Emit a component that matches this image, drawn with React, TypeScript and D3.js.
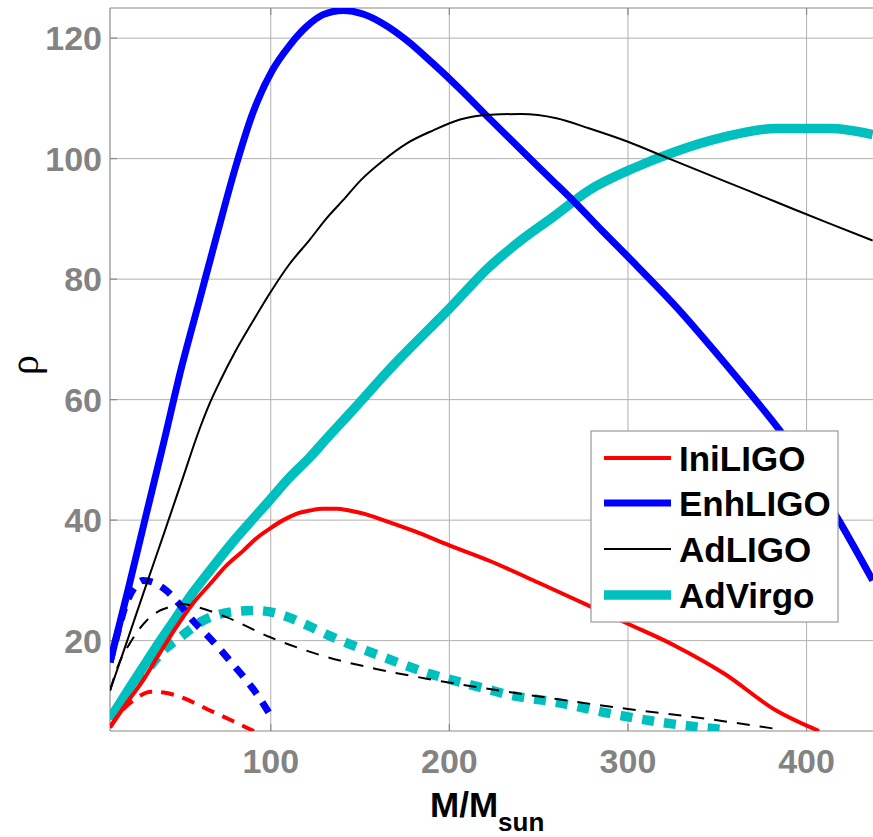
import React from 'react';
import * as d3 from 'd3';

// Tick values
const xTicks = [100, 200, 300, 400];
const yTicks = [20, 40, 60, 80, 100, 120];

// Initial LIGO, solid
const iniM = [10, 20, 28.5, 38, 47, 56, 66, 75, 84.5, 92, 99.5, 107, 114, 122, 129, 137, 144, 153, 163, 180, 200, 222, 250, 278, 300, 326, 354, 383, 407];
const iniRho = [5.6, 9.9, 13.4, 18, 22.2, 26, 29.4, 32.4, 34.9, 37, 38.6, 40, 41, 41.6, 41.9, 41.9, 41.6, 41, 40, 38.2, 35.8, 33.3, 29.6, 25.8, 22.8, 19.2, 14.5, 8.4, 5.0];

// Enhanced LIGO, solid
const enhM = [10, 20, 30, 40, 50, 60, 70, 80, 90, 101, 110.6, 120, 129.3, 140.5, 151.7, 162.9, 175.9, 190.8, 205.8, 222.6, 240, 258, 271, 285, 300, 327, 353, 369, 385, 400, 417, 437];
const enhRho = [16.4, 28.3, 40.6, 52.8, 65.3, 76.4, 87.5, 98.3, 107.6, 114.7, 118.8, 121.9, 123.9, 124.6, 124.0, 122.4, 119.7, 115.8, 111.6, 106.6, 101.5, 96.3, 92.5, 88.2, 83.7, 75.4, 66.5, 60.8, 54.9, 48.5, 40.5, 30];

// Advanced LIGO, solid
const adlM = [10, 20, 30, 40, 50, 60, 66, 72, 80, 90, 99.4, 110, 122, 131, 140.5, 151, 163, 176, 191, 206, 223, 240, 260, 278.5, 300, 323, 353, 383, 413, 437];
const adlRho = [11.7, 20.3, 29.0, 37.6, 46.3, 55.0, 59.5, 63.3, 67.9, 73.0, 77.6, 82.3, 86.6, 90, 93.1, 96.6, 99.7, 102.5, 104.7, 106.5, 107.3, 107.4, 106.7, 105, 102.8, 100, 96.4, 92.8, 89.2, 86.4];

// Advanced Virgo, solid
const advM = [10, 20, 28.5, 38, 47.2, 56, 65.9, 80, 99.4, 110, 121.8, 133, 144.2, 168, 200, 222.6, 239, 258, 278.5, 303, 326, 354, 383, 413, 437];
const advRho = [7.0, 11.7, 15.6, 19.9, 23.9, 27.8, 31.6, 36.8, 43.3, 46.9, 50.4, 54.1, 57.7, 65.5, 75.1, 82.1, 86.2, 90.3, 94.8, 98.4, 101.1, 103.6, 105.0, 105.0, 104.0];

// Dashed companions
const iniDashM = [10, 15, 21, 27, 33, 40, 47, 57, 66, 77, 89, 91];
const iniDashRho = [5.6, 7.8, 9.6, 10.9, 11.5, 11.4, 10.9, 9.7, 8.4, 6.9, 5.2, 4.9];

const enhDashM = [10, 14, 18.3, 23.9, 28.5, 34, 41.6, 49, 56.5, 64, 71.5, 79, 86.4, 93, 99.4];
const enhDashRho = [16.4, 21, 25.5, 28.9, 30, 29.7, 28.3, 26, 23.3, 21, 18.6, 16, 13.4, 10.8, 7.8];

const adlDashM = [10, 15, 21, 30.4, 38, 43.5, 49, 58.4, 75.2, 99.4, 125.6, 159, 189, 221.6, 260, 300, 334.5, 384];
const adlDashRho = [11.7, 16.2, 19.5, 23.3, 25, 25.6, 26.1, 25.6, 23.9, 20.6, 17.8, 15.3, 13.6, 12.0, 10.3, 8.65, 7.4, 5.3];

const advDashM = [10, 20, 30, 39.7, 49, 62, 77, 92, 107, 120, 133, 161, 189, 220.6, 231.9, 260, 291.6, 319.5, 351.3];
const advDashRho = [7, 11, 14.8, 18.3, 20.5, 23.3, 24.7, 25, 24.2, 22.6, 20.8, 17.5, 14.5, 12.0, 11.1, 9.75, 7.8, 6.4, 5.3];

const legendNames = ['IniLIGO', 'EnhLIGO', 'AdLIGO', 'AdVirgo'];

const RED = '#ff0000';
const BLUE = '#0000ff';
const BLACK = '#000000';
const CYAN = '#00bfbf';

const zip = (m: number[], r: number[]) => m.map((v, i) => [v, r[i]] as [number, number]);

type Series = { pts: [number, number][]; color: string; width: number; dash?: string };

// drawing order: cyan first, the others above it
const series: Series[] = [
  { pts: zip(advM, advRho), color: CYAN, width: 9.5 },
  { pts: zip(advDashM, advDashRho), color: CYAN, width: 9.5, dash: '12,10' },
  { pts: zip(iniM, iniRho), color: RED, width: 4 },
  { pts: zip(iniDashM, iniDashRho), color: RED, width: 4, dash: '13,9' },
  { pts: zip(enhM, enhRho), color: BLUE, width: 7 },
  { pts: zip(enhDashM, enhDashRho), color: BLUE, width: 7, dash: '12,10' },
  { pts: zip(adlM, adlRho), color: BLACK, width: 2 },
  { pts: zip(adlDashM, adlDashRho), color: BLACK, width: 2, dash: '13,10' },
];

const legendStyles = [
  { color: RED, width: 4 },
  { color: BLUE, width: 7 },
  { color: BLACK, width: 2 },
  { color: CYAN, width: 9.5 },
];

const W = 873;
const H = 837;
const left = 110;
const right = 878;
const top = 8;
const bottom = 731;

export default function App() {
  const x = d3.scaleLinear().domain([10, 440]).range([left, right]);
  const y = d3.scaleLinear().domain([5, 125]).range([bottom, top]);
  const line = d3
    .line<[number, number]>()
    .x((d) => x(d[0]))
    .y((d) => y(d[1]))
    .curve(d3.curveMonotoneX);

  const font = '"Liberation Sans", Arial, Helvetica, sans-serif';
  const gridColor = '#b0b0b0';
  const axisColor = '#8a8a8a';
  const tickLabelColor = '#838383';

  const lgX = 591;
  const lgY = 431;
  const lgW = 247;
  const lgH = 191;
  const rowY = [458, 503, 549, 595];

  return (
    <svg width={W} height={H} style={{ position: 'absolute', left: 0, top: 0, display: 'block', background: '#fff' }}>
      <defs>
        <clipPath id="plotClip">
          <rect x={left} y={top} width={right - left} height={bottom - top} />
        </clipPath>
      </defs>

      {/* grid */}
      {xTicks.map((t) => (
        <line key={'gx' + t} x1={x(t)} x2={x(t)} y1={top} y2={bottom} stroke={gridColor} strokeWidth={1} />
      ))}
      {yTicks.map((t) => (
        <line key={'gy' + t} x1={left} x2={right} y1={y(t)} y2={y(t)} stroke={gridColor} strokeWidth={1} />
      ))}

      {/* frame */}
      <line x1={left} x2={right} y1={top} y2={top} stroke={axisColor} strokeWidth={1.2} />
      <line x1={left} x2={right} y1={bottom} y2={bottom} stroke={axisColor} strokeWidth={1.2} />
      <line x1={left} x2={left} y1={top} y2={bottom} stroke={axisColor} strokeWidth={1.2} />

      {/* ticks */}
      {xTicks.map((t) => (
        <g key={'tx' + t}>
          <line x1={x(t)} x2={x(t)} y1={bottom} y2={bottom - 7} stroke={axisColor} strokeWidth={1.2} />
          <line x1={x(t)} x2={x(t)} y1={top} y2={top + 7} stroke={axisColor} strokeWidth={1.2} />
        </g>
      ))}
      {yTicks.map((t) => (
        <line key={'ty' + t} x1={left} x2={left + 7} y1={y(t)} y2={y(t)} stroke={axisColor} strokeWidth={1.2} />
      ))}

      {/* curves */}
      <g clipPath="url(#plotClip)" fill="none">
        {series.map((s, i) => (
          <path
            key={i}
            d={line(s.pts) || ''}
            stroke={s.color}
            strokeWidth={s.width}
            strokeDasharray={s.dash}
            strokeLinejoin="round"
            strokeLinecap="butt"
          />
        ))}
      </g>

      {/* tick labels */}
      {xTicks.map((t) => (
        <text key={'lx' + t} x={x(t)} y={773} textAnchor="middle" fontFamily={font} fontWeight="bold" fontSize={34} fill={tickLabelColor}>
          {t}
        </text>
      ))}
      {yTicks.map((t) => (
        <text key={'ly' + t} x={102} y={y(t) + 12} textAnchor="end" fontFamily={font} fontWeight="bold" fontSize={34} fill={tickLabelColor}>
          {t}
        </text>
      ))}

      {/* axis labels */}
      <text x={430} y={817} fontFamily={font} fontWeight="bold" fontSize={35} fill="#000">
        M/M
        <tspan fontSize={26} dy={14}>sun</tspan>
      </text>
      <text
        transform="translate(38,365) rotate(-90)"
        textAnchor="middle"
        fontFamily='"Liberation Serif", "DejaVu Serif", serif'
        fontSize={40}
        fill="#000"
      >
        ρ
      </text>

      {/* legend */}
      <rect x={lgX} y={lgY} width={lgW} height={lgH} fill="#fff" stroke="#999" strokeWidth={1.2} />
      {legendNames.map((name, i) => (
        <g key={name}>
          <line x1={604} x2={671} y1={rowY[i]} y2={rowY[i]} stroke={legendStyles[i].color} strokeWidth={legendStyles[i].width} />
          <text x={679} y={rowY[i] + 13} fontFamily={font} fontWeight="bold" fontSize={35} fill="#000">
            {name}
          </text>
        </g>
      ))}
    </svg>
  );
}
